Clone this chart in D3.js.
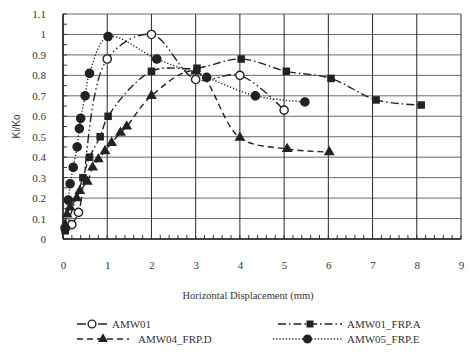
<!DOCTYPE html>
<html>
<head>
<meta charset="utf-8">
<script src="https://cdn.jsdelivr.net/npm/d3@7"></script>
<style>
  body { margin: 0; background: #fff; }
  svg { display: block; }
  text { font-family: 'Liberation Serif', 'DejaVu Serif', serif; fill: #333; }
</style>
</head>
<body>
<div id="chart"></div>
<script>
// series: [displacement (mm), Ki/Ko]
const amw01 = [[0.2, 0.07], [0.35, 0.13], [1, 0.88], [2, 1.0], [3, 0.78], [4, 0.8], [5, 0.63]];
const amw01FrpA = [[0.05, 0.04], [0.45, 0.3], [0.6, 0.4], [0.84, 0.5], [1.02, 0.6], [2, 0.82],
  [3.03, 0.835], [4.03, 0.88], [5.05, 0.82], [6.06, 0.785], [7.08, 0.68], [8.1, 0.655]];
const amw04FrpD = [[0.05, 0.07], [0.09, 0.12], [0.16, 0.155], [0.31, 0.2], [0.38, 0.235], [0.55, 0.28],
  [0.67, 0.35], [0.8, 0.39], [0.95, 0.43], [1.1, 0.47], [1.3, 0.52], [1.44, 0.55], [2, 0.7],
  [3, 0.82], [4, 0.495], [5.07, 0.44], [6.02, 0.425]];
const amw05FrpE = [[0.05, 0.05], [0.12, 0.19], [0.16, 0.27], [0.23, 0.35], [0.32, 0.45], [0.37, 0.54],
  [0.4, 0.59], [0.5, 0.7], [0.6, 0.81], [1.02, 0.99], [2.12, 0.88], [3.25, 0.79], [4.35, 0.7], [5.47, 0.67]];

const xTicks = [0, 1, 2, 3, 4, 5, 6, 7, 8, 9];
const yTicks = [0, 0.1, 0.2, 0.3, 0.4, 0.5, 0.6, 0.7, 0.8, 0.9, 1, 1.1];

const series = [
  { name: 'AMW01', data: amw01, marker: 'openCircle', dash: '9,3,1.5,3,1.5,3' },
  { name: 'AMW01_FRP.A', data: amw01FrpA, marker: 'square', dash: '8,3,1.5,3' },
  { name: 'AMW04_FRP.D', data: amw04FrpD, marker: 'triangle', dash: '6,4' },
  { name: 'AMW05_FRP.E', data: amw05FrpE, marker: 'circle', dash: '1.2,2' }
];

const width = 469, height = 355;
const margin = { top: 14, right: 8, bottom: 116, left: 63 };
const w = width - margin.left - margin.right;
const h = height - margin.top - margin.bottom;

const x = d3.scaleLinear().domain([0, 9]).range([0, w]);
const y = d3.scaleLinear().domain([0, 1.1]).range([h, 0]);

const svg = d3.select('#chart').append('svg')
  .attr('width', width)
  .attr('height', height);

const g = svg.append('g')
  .attr('transform', `translate(${margin.left},${margin.top})`);

// horizontal gridlines
g.append('g')
  .selectAll('line')
  .data(yTicks)
  .enter().append('line')
  .attr('x1', 0).attr('x2', w)
  .attr('y1', d => y(d)).attr('y2', d => y(d))
  .style('stroke', '#6a6a6a')
  .style('stroke-width', 1);

// vertical gridlines
g.append('g')
  .selectAll('line')
  .data(xTicks)
  .enter().append('line')
  .attr('x1', d => x(d)).attr('x2', d => x(d))
  .attr('y1', 0).attr('y2', h)
  .style('stroke', '#2a2a2a')
  .style('stroke-width', 1);

// minor ticks, pointing into the plot
const xMinor = d3.range(0, 9.001, 0.2);
const yMinor = d3.range(0, 1.1001, 0.05);
g.append('g').selectAll('line').data(xMinor).enter().append('line')
  .attr('x1', d => x(d)).attr('x2', d => x(d))
  .attr('y1', h).attr('y2', h - 4)
  .style('stroke', '#333');
g.append('g').selectAll('line').data(yMinor).enter().append('line')
  .attr('x1', 0).attr('x2', 4)
  .attr('y1', d => y(d)).attr('y2', d => y(d))
  .style('stroke', '#333');

// axes (labels only, lines drawn above)
g.append('g')
  .attr('class', 'axis axis--x')
  .attr('transform', `translate(0,${h})`)
  .call(d3.axisBottom(x).tickValues(xTicks).tickSize(0).tickPadding(22).tickFormat(d3.format('d')))
  .call(a => a.select('.domain').remove())
  .selectAll('text')
  .style('font-size', '11px')
  .style('font-family', "'Liberation Serif', serif")
  .attr('fill', '#333');

g.append('g')
  .attr('class', 'axis axis--y')
  .call(d3.axisLeft(y).tickValues(yTicks).tickSize(0).tickPadding(17).tickFormat(d => d === 0 || d === 1 ? d : d3.format('.1f')(d)))
  .call(a => a.select('.domain').remove())
  .selectAll('text')
  .style('font-size', '11px')
  .style('font-family', "'Liberation Serif', serif")
  .attr('fill', '#333');

g.append('line').attr('x1', 0).attr('x2', 0).attr('y1', 0).attr('y2', h)
  .style('stroke', '#222').style('stroke-width', 1.5);
g.append('line').attr('x1', 0).attr('x2', w).attr('y1', h).attr('y2', h)
  .style('stroke', '#222').style('stroke-width', 1.5);

// axis titles
svg.append('text')
  .attr('transform', `translate(20,${margin.top + h / 2}) rotate(-90)`)
  .style('text-anchor', 'middle')
  .style('font-family', "'Liberation Sans', sans-serif")
  .style('font-size', '10px')
  .text('Ki/Ko');

svg.append('text')
  .attr('x', 248)
  .attr('y', 299)
  .style('text-anchor', 'middle')
  .style('font-size', '10.5px')
  .text('Horizontal Displacement (mm)');

const line = d3.line()
  .x(d => x(d[0]))
  .y(d => y(d[1]))
  .curve(d3.curveCatmullRom.alpha(0.5));

function drawMarker(sel, type, size) {
  if (type === 'openCircle' || type === 'circle') {
    sel.append('circle').attr('r', size * 0.55)
      .style('fill', type === 'circle' ? '#222' : '#fff')
      .style('stroke', '#222').style('stroke-width', 1.4);
  } else if (type === 'square') {
    sel.append('rect').attr('x', -size / 2).attr('y', -size / 2)
      .attr('width', size).attr('height', size)
      .style('fill', '#222');
  } else {
    sel.append('path').attr('d', d3.symbol(d3.symbolTriangle, size * size * 0.9)())
      .style('fill', '#222');
  }
}

const plot = g.append('g');
series.forEach(s => {
  plot.append('path')
    .datum(s.data)
    .attr('d', line)
    .style('fill', 'none')
    .style('stroke', '#222')
    .style('stroke-width', 1.4)
    .style('stroke-dasharray', s.dash);
  s.data.forEach(p => {
    const m = plot.append('g').attr('transform', `translate(${x(p[0])},${y(p[1])})`);
    drawMarker(m, s.marker, 7.5);
  });
});

// legend
const legendItems = [
  { s: series[0], x: 77, y: 324, len: 30, tx: 112 },
  { s: series[1], x: 278, y: 324, len: 64, tx: 347 },
  { s: series[2], x: 77, y: 339, len: 52, tx: 138 },
  { s: series[3], x: 273, y: 339, len: 69, tx: 347 }
];
legendItems.forEach(it => {
  const lg = svg.append('g');
  lg.append('line')
    .attr('x1', it.x).attr('x2', it.x + it.len)
    .attr('y1', it.y).attr('y2', it.y)
    .style('stroke', '#222').style('stroke-width', 1.4)
    .style('stroke-dasharray', it.s.dash);
  const m = lg.append('g').attr('transform', `translate(${it.x + it.len / 2},${it.y})`);
  drawMarker(m, it.s.marker, 7);
  lg.append('text')
    .attr('x', it.tx).attr('y', it.y + 4)
    .style('font-size', '11px')
    .text(it.s.name);
});
</script>
</body>
</html>
